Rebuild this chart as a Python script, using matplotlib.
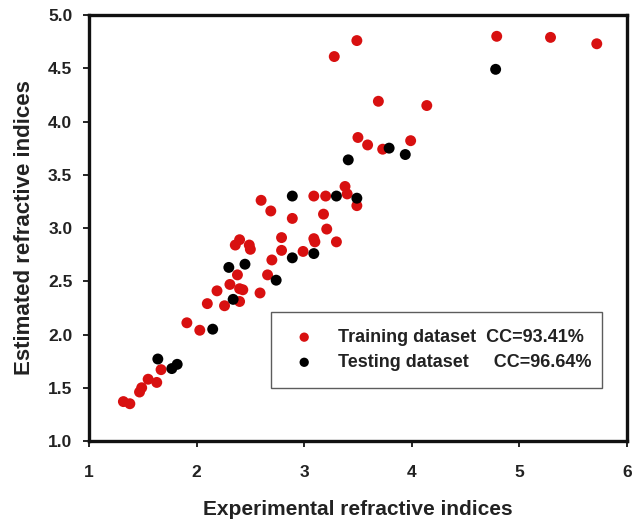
import matplotlib
matplotlib.use("Agg")
import matplotlib.pyplot as plt

plt.rcParams['font.family'] = ['Liberation Sans', 'DejaVu Sans']

train_x = [1.32, 1.38, 1.47, 1.49, 1.55, 1.63, 1.67,
           1.91, 2.03, 2.10, 2.19, 2.26, 2.31, 2.40, 2.40, 2.43, 2.38, 2.36, 2.40, 2.49, 2.50,
           2.59, 2.66, 2.70, 2.60, 2.69, 2.79, 2.79, 2.89, 2.99, 3.09, 3.10, 3.09, 3.20, 3.18,
           3.21, 3.30, 3.38, 3.40, 3.49, 3.50, 3.59, 3.73, 3.99, 3.69, 4.14, 3.28, 3.49,
           4.79, 5.29, 5.72]
train_y = [1.37, 1.35, 1.46, 1.50, 1.58, 1.55, 1.67,
           2.11, 2.04, 2.29, 2.41, 2.27, 2.47, 2.31, 2.43, 2.42, 2.56, 2.84, 2.89, 2.84, 2.80,
           2.39, 2.56, 2.70, 3.26, 3.16, 2.91, 2.79, 3.09, 2.78, 2.90, 2.87, 3.30, 3.30, 3.13,
           2.99, 2.87, 3.39, 3.32, 3.21, 3.85, 3.78, 3.74, 3.82, 4.19, 4.15, 4.61, 4.76,
           4.80, 4.79, 4.73]

test_x = [1.64, 1.77, 1.82, 2.15, 2.30, 2.45, 2.34, 2.74, 2.89, 3.09, 2.89, 3.30, 3.49,
          3.41, 3.79, 3.94, 4.78]
test_y = [1.77, 1.68, 1.72, 2.05, 2.63, 2.66, 2.33, 2.51, 2.72, 2.76, 3.30, 3.30, 3.28,
          3.64, 3.75, 3.69, 4.49]

train_label = "Training dataset  CC=93.41%"
test_label = "Testing dataset     CC=96.64%"

xticks = [1, 2, 3, 4, 5, 6]
yticks = [1.0, 1.5, 2.0, 2.5, 3.0, 3.5, 4.0, 4.5, 5.0]

fig = plt.figure(figsize=(6.41, 5.25), dpi=100)
ax = fig.add_axes([0.1388, 0.16, 0.8392, 0.8114])

ax.scatter(train_x, train_y, s=62, c='#d81010', edgecolors='none', label=train_label, zorder=3)
ax.scatter(test_x, test_y, s=62, c='#000000', edgecolors='none', label=test_label, zorder=4)

ax.set_xlim(1, 6)
ax.set_ylim(1.0, 5.0)
ax.set_xticks(xticks)
ax.set_xticklabels([str(t) for t in xticks])
ax.set_yticks(yticks)
ax.set_yticklabels([f"{t:.1f}" for t in yticks])

for sp in ax.spines.values():
    sp.set_linewidth(2.4)
    sp.set_color('#111111')

ax.tick_params(direction='out', length=4, width=1.2, labelsize=12.5)
ax.tick_params(axis='x', pad=13)
ax.tick_params(axis='y', pad=8)
for lbl in ax.get_xticklabels() + ax.get_yticklabels():
    lbl.set_fontweight('bold')
    lbl.set_color('#222222')

ax.set_xlabel("Experimental refractive indices", fontsize=15, fontweight='bold',
              color='#222222', labelpad=15)
ax.set_ylabel("Estimated refractive indices", fontsize=16, fontweight='bold',
              color='#222222', labelpad=9)

leg = ax.legend(loc='lower left', bbox_to_anchor=(0.338, 0.124, 0.616, 0.174),
                mode='expand', fancybox=False, frameon=True, edgecolor='#333333',
                prop={'weight': 'bold', 'size': 13}, handletextpad=1.0,
                borderpad=0.95, labelspacing=0.45, markerscale=0.85, handlelength=1.8,
                borderaxespad=0)
leg.get_frame().set_linewidth(1.0)
for t in leg.get_texts():
    t.set_color('#222222')

fig.savefig("out.png", dpi=100)
